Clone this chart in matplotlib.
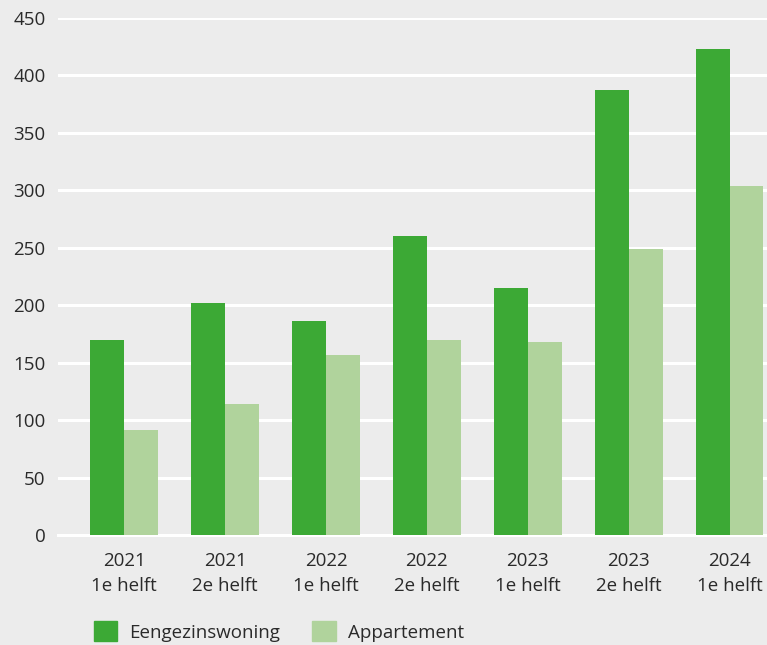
import matplotlib
matplotlib.use("Agg")
import matplotlib.pyplot as plt
import numpy as np
from matplotlib.patches import Patch

categories = ["2021\n1e helft", "2021\n2e helft", "2022\n1e helft", "2022\n2e helft",
              "2023\n1e helft", "2023\n2e helft", "2024\n1e helft"]
eengezinswoning = [170, 202, 186, 260, 215, 387, 423]
appartement = [91, 114, 157, 170, 168, 249, 304]
series_names = ["Eengezinswoning", "Appartement"]
yticks = [0, 50, 100, 150, 200, 250, 300, 350, 400, 450]

plt.rcParams['font.family'] = ['Open Sans', 'DejaVu Sans']
bg = "#ececec"
c1 = "#3ca935"
c2 = "#b0d39c"
txt = "#2a2a2a"
fs = 13.5

fig = plt.figure(figsize=(7.67, 6.45), dpi=100, facecolor=bg)
ax = fig.add_axes([58/767, 1-535/645, 1-58/767, (535-18)/645])
ax.set_facecolor(bg)

x = np.arange(len(categories))
w = 0.335
ax.bar(x - w/2, eengezinswoning, width=w, color=c1, zorder=3)
ax.bar(x + w/2, appartement, width=w, color=c2, zorder=3)

ax.set_ylim(0, 450)
ax.set_xlim(-0.655, 6.37)
ax.set_yticks(yticks)
ax.set_xticks(x)
ax.set_xticklabels(categories, fontsize=fs, color=txt, linespacing=1.5)
ax.tick_params(axis='y', labelsize=fs, colors=txt, length=0, pad=9)
ax.tick_params(axis='x', length=0, pad=12, colors=txt)
ax.grid(axis='y', color='white', linewidth=2.2, zorder=1)
ax.axhline(0, color='white', linewidth=2.2, zorder=2, clip_on=False)
for s in ax.spines.values():
    s.set_visible(False)

handles = [Patch(color=c1), Patch(color=c2)]
fig.legend(handles, series_names, loc='lower left', bbox_to_anchor=(77/767, -0.021),
           ncol=2, frameon=False, fontsize=fs, handlelength=1.25, handleheight=1.25,
           handletextpad=0.65, columnspacing=1.7, labelcolor=txt)

fig.savefig("out.png", dpi=100, facecolor=bg)
